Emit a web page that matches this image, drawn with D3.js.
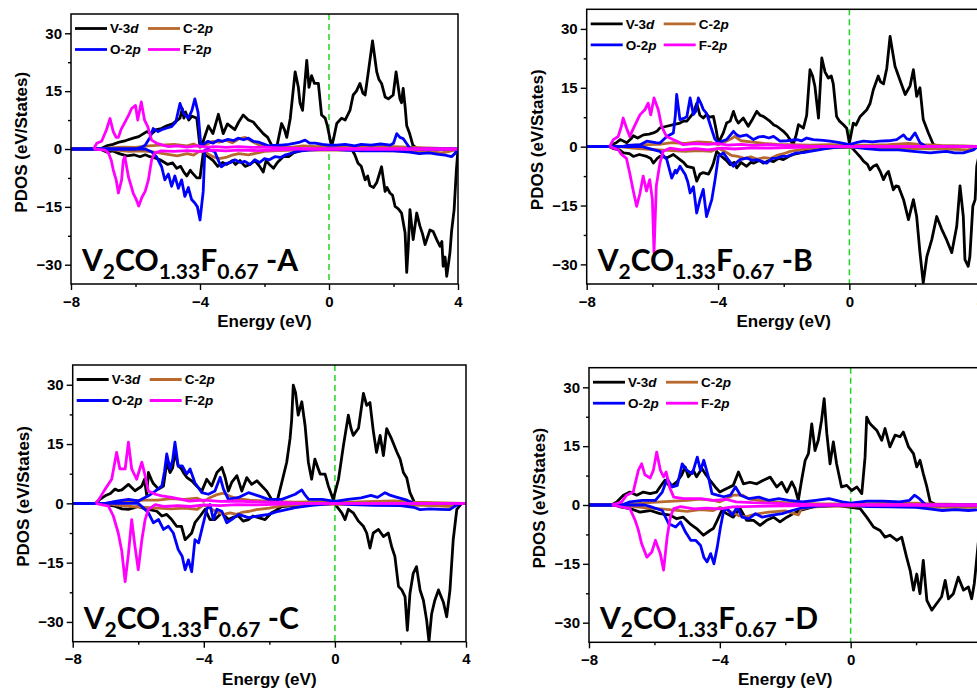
<!DOCTYPE html>
<html>
<head>
<meta charset="utf-8">
<script src="https://cdn.jsdelivr.net/npm/d3@7"></script>
<style>
  body { margin: 0; background: #fff; overflow: hidden; }
  svg { display: block; }
  .tick text { font-family: Arial, "Liberation Sans", sans-serif; font-weight: bold; font-size: 15px; fill: #000; }
  .tick line { stroke: #000; stroke-width: 1.4; }
  .label { font-family: Arial, "Liberation Sans", sans-serif; font-weight: bold; font-size: 17px; fill: #000; }
  .legend { font-family: Arial, "Liberation Sans", sans-serif; font-weight: bold; font-size: 13.5px; fill: #000; }
  .title { font-family: Lato, "Open Sans", sans-serif; font-weight: 700; fill: #000; }
</style>
</head>
<body>
<svg id="chart" width="977" height="691"></svg>
<script>
// energy ticks (eV) and PDOS ticks
const energyTicks = [-8, -4, 0, 4];
const energyMinor = [-6, -2, 2];
const pdosTicks = [-30, -15, 0, 15, 30];
const pdosMinor = [-22.5, -7.5, 7.5, 22.5];

// ---- panel A: [energy, pdos] ----
const aVup = [[-8,0],[-7.1,0],[-6.9,0.8],[-6.7,1.2],[-6.5,1.8],[-6.3,2.2],[-6.07,2.8],[-5.9,3.2],[-5.65,4.5],[-5.5,4],[-5.35,5],[-5.2,5.3],[-5.03,6],[-4.85,6.5],[-4.7,7.5],[-4.62,8],[-4.55,10.5],[-4.5,8],[-4.45,9.6],[-4.35,7.5],[-4.25,8.5],[-4.1,8],[-4.0,0.5],[-3.9,2],[-3.74,6],[-3.6,4],[-3.43,9],[-3.28,4],[-3.15,6.5],[-3.07,6],[-2.92,5],[-2.8,7],[-2.66,8.8],[-2.5,7.5],[-2.35,7],[-2.2,5.5],[-2.04,4],[-1.9,3],[-1.78,1],[-1.62,0.5],[-1.47,6.6],[-1.38,5],[-1.31,3],[-1.2,8],[-1.05,20],[-0.95,16],[-0.9,12],[-0.82,10],[-0.69,23],[-0.62,16],[-0.54,19],[-0.45,17],[-0.33,17],[-0.23,8.8],[-0.12,8],[-0.05,6],[0.08,0.6],[0.15,3],[0.24,6.6],[0.39,8],[0.5,7.5],[0.65,10],[0.75,14],[0.85,15],[0.96,17],[1.05,14.5],[1.12,14],[1.22,20],[1.35,28],[1.48,20],[1.55,18],[1.63,17],[1.74,13.5],[1.84,13],[1.99,14],[2.08,20],[2.2,13],[2.25,12],[2.3,15.7],[2.36,11],[2.41,6],[2.5,4],[2.6,1],[2.75,0],[4,0]];
const aVdn = [[-8,0],[-7.1,0],[-6.9,-0.8],[-6.7,-0.5],[-6.5,-1.2],[-6.27,-1.8],[-6.05,-1.5],[-5.86,-2],[-5.7,-1.5],[-5.55,-2],[-5.4,-2.3],[-5.24,-2.8],[-5.1,-3.5],[-5.0,-4],[-4.85,-3.6],[-4.72,-5],[-4.6,-4.5],[-4.5,-6],[-4.41,-7],[-4.3,-5.5],[-4.26,-6],[-4.1,-7.5],[-4.0,-7.5],[-3.9,-1],[-3.75,-2],[-3.59,-3],[-3.45,-4.5],[-3.3,-3.5],[-3.17,-4],[-3.0,-3],[-2.9,-4],[-2.76,-3],[-2.6,-4.5],[-2.45,-4],[-2.3,-3],[-2.15,-4.5],[-2.04,-6],[-1.95,-3],[-1.85,-4],[-1.72,-5],[-1.6,-3.5],[-1.42,-2],[-1.25,-2],[-1.1,-1],[-0.9,-0.5],[-0.5,0],[0.7,0],[0.8,-1.5],[0.9,-3.7],[1.0,-4.5],[1.12,-8],[1.2,-7],[1.27,-9.5],[1.38,-10],[1.48,-8.7],[1.63,-4.6],[1.74,-11],[1.8,-10],[1.89,-11.4],[1.97,-12],[2.05,-14.9],[2.15,-15.5],[2.25,-16.6],[2.36,-21.8],[2.41,-32],[2.46,-25],[2.51,-15.7],[2.61,-23.5],[2.72,-16.6],[2.82,-20],[2.9,-22],[2.98,-24.8],[3.13,-21],[3.23,-21.4],[3.34,-23.5],[3.44,-25.2],[3.5,-24],[3.54,-30.4],[3.6,-28],[3.65,-33],[3.7,-30],[3.75,-26.9],[3.8,-21.4],[3.88,-15.7],[3.95,-5.4],[4,0]];
const aCup = [[-8,0],[-7,0],[-6.8,0.3],[-6.4,0.5],[-6,0.4],[-5.6,0.8],[-5.2,1],[-4.8,1.2],[-4.4,0.8],[-4.2,1.3],[-4,0.5],[-3.8,1.2],[-3.6,2],[-3.4,1.8],[-3.2,2.3],[-3,1.6],[-2.8,2.6],[-2.6,3],[-2.4,2],[-2.2,1.2],[-2,0.8],[-1.6,0.5],[-1.2,0.4],[-0.8,0.8],[-0.4,0.6],[0,0.8],[0.4,0.4],[1,0.5],[2,0.6],[3,0.3],[4,0]];
const aCdn = [[-8,0],[-7,0],[-6.6,-0.3],[-6.2,-0.6],[-5.8,-0.5],[-5.4,-0.8],[-5,-1.4],[-4.7,-1.8],[-4.4,-1.2],[-4.2,-1.6],[-4,-0.5],[-3.8,-1],[-3.6,-2],[-3.4,-2.5],[-3.2,-2.2],[-3,-1.6],[-2.8,-1.2],[-2.5,-1.5],[-2.2,-1],[-2,-0.6],[-1.6,-0.4],[-1,-0.3],[0,-0.2],[1,-0.3],[2,-0.5],[3,-0.6],[3.5,-1],[3.8,-0.5],[4,0]];
const aOup = [[-8,0],[-6,0],[-5.8,0.5],[-5.7,1],[-5.55,3],[-5.45,5.3],[-5.3,4.5],[-5.19,5],[-5.0,5.5],[-4.88,5.8],[-4.75,7],[-4.62,11.8],[-4.51,9.2],[-4.36,8],[-4.25,10],[-4.16,13],[-4.06,9.5],[-3.97,0.6],[-3.85,1.5],[-3.75,2],[-3.6,1.5],[-3.44,2.3],[-3.3,2],[-3.13,2.5],[-2.95,2.2],[-2.82,2.8],[-2.65,2.4],[-2.5,2.8],[-2.35,2],[-2.19,1.8],[-2.0,1.2],[-1.88,0.8],[-1.6,1],[-1.47,1],[-1.25,1.2],[-1.05,1.5],[-0.9,1.8],[-0.74,2.3],[-0.6,1.5],[-0.43,1.5],[-0.2,1.2],[0,1],[0.24,1],[0.5,1.2],[0.8,0.8],[1.0,1.2],[1.3,1],[1.6,1.3],[1.9,1],[2.0,1.5],[2.1,4],[2.2,3],[2.3,2.7],[2.4,1.5],[2.5,0.3],[2.7,0],[4,0]];
const aOdn = [[-8,0],[-5.7,0],[-5.5,-0.7],[-5.35,-2],[-5.19,-4.6],[-5.09,-8],[-4.98,-6.5],[-4.88,-9.7],[-4.78,-7],[-4.67,-10.2],[-4.57,-8],[-4.47,-12.3],[-4.36,-10],[-4.26,-13.1],[-4.16,-14],[-4.08,-15],[-4.0,-18.4],[-3.9,-11],[-3.85,-0.3],[-3.75,-0.1],[-3.54,-0.7],[-3.44,-2.8],[-3.34,-4.6],[-3.18,-3.7],[-3.05,-3.5],[-2.92,-2.8],[-2.75,-3.5],[-2.61,-3.2],[-2.45,-4],[-2.3,-2.8],[-2.15,-3.5],[-2.0,-2.5],[-1.85,-2.8],[-1.68,-2],[-1.5,-2.2],[-1.37,-1.6],[-1.2,-1.2],[-1.05,-0.7],[-0.64,-0.3],[0,0],[0.5,-0.3],[1,-0.5],[1.5,-0.4],[2,-0.5],[2.5,-0.8],[2.8,-1.2],[3.1,-1],[3.4,-1.4],[3.6,-1.6],[3.8,-2],[3.9,-1.2],[4,0]];
const aFup = [[-7.3,0],[-7.2,1.5],[-7.05,2],[-6.9,5],[-6.79,7.9],[-6.69,4.5],[-6.6,3],[-6.53,3],[-6.45,5],[-6.33,6.9],[-6.2,9],[-6.12,10.5],[-6.0,11.3],[-5.93,7.5],[-5.82,12.2],[-5.72,7.5],[-5.62,5.8],[-5.5,2.3],[-5.34,1.5],[-5.15,1],[-4.98,0.6],[-4.7,0.8],[-4.4,0.5],[-4.1,0.8],[-3.8,0.5],[-3.5,0.6],[-3.2,0.4],[-2.8,0.6],[-2.4,0.4],[-2,0.5],[-1.6,0.3],[-1.2,0.2],[-0.5,0],[4,0]];
const aFdn = [[-7.3,0],[-6.95,-0.3],[-6.84,-1],[-6.75,-3],[-6.69,-5.4],[-6.6,-8],[-6.53,-11.4],[-6.43,-8],[-6.38,-3],[-6.33,-2],[-6.22,-7.2],[-6.12,-10],[-6.07,-11.5],[-5.98,-13],[-5.9,-14.8],[-5.8,-12.5],[-5.7,-11],[-5.6,-8],[-5.5,-2.8],[-5.4,-1],[-5.2,-0.5],[-4.8,-0.6],[-4.4,-0.4],[-4.0,-0.6],[-3.6,-0.3],[-3.2,-0.5],[-2.8,-0.3],[-2.2,-0.4],[-1.6,-0.2],[-1,0],[4,0]];

// ---- panel B ----
const bVup = [[-8,0],[-7.3,0],[-7.24,0.5],[-7.1,1],[-6.98,1.8],[-6.78,1],[-6.65,2],[-6.58,2.8],[-6.45,2.2],[-6.27,3],[-6.1,3.2],[-5.97,3.5],[-5.85,4],[-5.77,4.8],[-5.56,5.2],[-5.36,5.6],[-5.16,6],[-5.05,6.5],[-4.95,6.5],[-4.85,7.5],[-4.75,8.6],[-4.65,11],[-4.55,8],[-4.45,7.3],[-4.35,8.2],[-4.25,7.5],[-4.14,7.7],[-4.05,4],[-3.99,0.9],[-3.84,3.5],[-3.74,6],[-3.63,6.5],[-3.53,9],[-3.45,7],[-3.38,6],[-3.23,7.3],[-3.08,5.2],[-2.95,7],[-2.82,9],[-2.72,8],[-2.62,7.7],[-2.42,6.5],[-2.3,5.5],[-2.21,5.2],[-2.1,4.5],[-2.01,3.9],[-1.9,3],[-1.81,1.8],[-1.71,0.5],[-1.62,3],[-1.55,5.6],[-1.4,4.7],[-1.3,8],[-1.2,19.6],[-1.12,18],[-1.05,15.4],[-0.94,7.3],[-0.84,22.6],[-0.74,19],[-0.64,17.5],[-0.55,18],[-0.49,16],[-0.39,7.7],[-0.3,6.5],[-0.18,5.6],[-0.08,4.7],[0,0.9],[0.12,6],[0.2,5.5],[0.33,7.7],[0.53,9.4],[0.63,11],[0.73,14.5],[0.88,18],[0.95,16.5],[1.04,16],[1.14,20],[1.24,28.1],[1.32,24],[1.39,20.5],[1.54,17],[1.7,13.3],[1.85,15.5],[1.95,19.6],[2.05,12.8],[2.15,15],[2.25,6.9],[2.41,3.4],[2.56,0.5],[2.76,0],[4,0]];
const bVdn = [[-8,0],[-7.3,0],[-7.19,-0.5],[-7.0,-0.8],[-6.88,-1.6],[-6.7,-1.8],[-6.58,-2.5],[-6.4,-2],[-6.17,-2.5],[-6.05,-3],[-5.97,-4.2],[-5.85,-3],[-5.77,-2.5],[-5.55,-2.8],[-5.36,-2],[-5.16,-3.3],[-5.05,-4],[-4.95,-5],[-4.75,-5.4],[-4.65,-8.8],[-4.55,-7],[-4.45,-6.6],[-4.29,-7],[-4.2,-5.5],[-4.14,-4.2],[-4.04,-1.2],[-3.89,-2.5],[-3.75,-3.5],[-3.63,-4.6],[-3.5,-4],[-3.43,-5.4],[-3.3,-4],[-3.13,-5],[-3.0,-4],[-2.92,-4.2],[-2.75,-3.5],[-2.62,-4.2],[-2.45,-3.5],[-2.31,-3.8],[-2.15,-3],[-2.01,-3.3],[-1.85,-2.5],[-1.71,-2],[-1.5,-1.6],[-1.35,-1.2],[-1.2,-0.8],[-0.59,-0.3],[0,0],[0.1,-0.5],[0.22,-1.6],[0.32,-2.5],[0.43,-3.7],[0.55,-4.5],[0.63,-5.9],[0.73,-5],[0.83,-4.6],[0.95,-6.5],[1.04,-8.4],[1.12,-7],[1.19,-6.3],[1.34,-11],[1.42,-10],[1.5,-10.2],[1.65,-13.5],[1.8,-18.6],[1.95,-13.5],[2.05,-17.8],[2.15,-27],[2.25,-34.7],[2.36,-28],[2.51,-23.7],[2.66,-17.8],[2.81,-21],[2.96,-23.7],[3.12,-27],[3.27,-20.3],[3.37,-10],[3.47,-17.8],[3.52,-28.8],[3.62,-30.5],[3.67,-28],[3.76,-15.2],[3.83,-13.5],[3.88,-5],[4,0]];
const bCup = [[-8,0],[-7,0],[-6.6,0.3],[-6.2,0.5],[-5.8,0.6],[-5.4,1],[-5,0.8],[-4.6,1.2],[-4.2,1],[-4,0.5],[-3.8,1.2],[-3.6,2],[-3.5,2.6],[-3.3,1.5],[-3.0,1.2],[-2.6,0.8],[-2.2,0.6],[-1.8,0.5],[-1.2,0.4],[-0.6,0.5],[0,0.3],[0.6,0.4],[1.2,0.5],[1.8,0.8],[2.2,0.5],[2.8,0.3],[3.5,0.2],[4,0]];
const bCdn = [[-8,0],[-7,0],[-6.6,-0.4],[-6.2,-0.6],[-5.8,-0.8],[-5.4,-1],[-5,-1.2],[-4.6,-1],[-4.2,-1.2],[-4,-0.4],[-3.8,-1.2],[-3.6,-2.2],[-3.4,-2.5],[-3.2,-3],[-3,-2.6],[-2.8,-3.2],[-2.6,-2.8],[-2.4,-3],[-2.2,-2.2],[-2,-1.8],[-1.8,-1.2],[-1.4,-0.6],[-1,-0.4],[0,-0.2],[1,-0.3],[2,-0.5],[3,-0.6],[3.6,-0.8],[4,0]];
const bOup = [[-8,0],[-6.9,0],[-6.78,0.3],[-6.37,0.5],[-6.17,1.4],[-5.9,1],[-5.77,0.9],[-5.56,2.6],[-5.36,3.5],[-5.3,8],[-5.26,13.3],[-5.16,6.9],[-5.05,7.2],[-4.95,7.6],[-4.85,12.4],[-4.75,8.2],[-4.68,9],[-4.6,12.4],[-4.52,11],[-4.45,9.5],[-4.35,8.5],[-4.19,4.3],[-4.1,2],[-3.99,0.9],[-3.84,1.5],[-3.74,1.8],[-3.53,3.9],[-3.43,3],[-3.33,2.6],[-3.13,3],[-2.92,1.8],[-2.75,2.5],[-2.62,2.6],[-2.45,2.2],[-2.31,2.6],[-2.11,1.4],[-1.9,1.5],[-1.6,1.8],[-1.45,1.5],[-1.3,2.2],[-1.1,1.8],[-0.8,1.6],[-0.59,1.4],[-0.3,1],[0,0.5],[0.2,1],[0.43,1.4],[0.7,1.2],[0.93,1.4],[1.2,1.5],[1.44,1.8],[1.65,3],[1.75,2],[1.85,1.8],[2.0,3.5],[2.15,1],[2.35,0],[4,0]];
const bOdn = [[-8,0],[-6.3,0],[-6.17,-0.3],[-5.95,-0.8],[-5.77,-1.2],[-5.56,-3.3],[-5.41,-8],[-5.3,-6],[-5.26,-6.7],[-5.16,-5],[-5.0,-7.1],[-4.92,-9],[-4.85,-11.8],[-4.75,-10.2],[-4.65,-16.9],[-4.55,-13.5],[-4.45,-10.9],[-4.35,-17.8],[-4.19,-13.5],[-4.09,-8.4],[-3.99,-2.5],[-3.84,-1.6],[-3.69,-3.3],[-3.53,-5],[-3.43,-4],[-3.33,-3.3],[-3.13,-2.9],[-2.95,-3.5],[-2.82,-3.3],[-2.65,-3.8],[-2.52,-4.2],[-2.35,-3],[-2.21,-2.9],[-2.05,-2.5],[-1.91,-2.5],[-1.75,-2],[-1.6,-1.6],[-1.4,-1.5],[-1.2,-1.2],[-0.8,-0.6],[-0.59,-0.3],[0,0],[0.5,-0.5],[0.93,-0.8],[1.5,-0.8],[1.95,-1.2],[2.2,-1.4],[2.46,-1.6],[2.7,-1.4],[2.96,-1.2],[3.2,-1.6],[3.47,-1.6],[3.78,-0.8],[3.9,0],[4,0]];
const bFup = [[-7.3,0],[-7.19,1.8],[-7.04,2.6],[-6.95,5],[-6.89,7.3],[-6.79,4.8],[-6.69,2.6],[-6.53,5.5],[-6.38,8.1],[-6.23,9.4],[-6.13,11.1],[-6.05,8.1],[-5.95,12.4],[-5.82,9.4],[-5.72,5.2],[-5.57,2.6],[-5.37,1.8],[-5.2,1.2],[-5.06,0.5],[-4.7,0.8],[-4.3,0.6],[-4.0,0.8],[-3.7,0.4],[-3.3,0.6],[-2.9,0.3],[-2.5,0.5],[-2,0.3],[-1.5,0.2],[-1,0],[4,0]];
const bFdn = [[-7.3,0],[-7.04,-0.8],[-6.94,-2],[-6.79,-3],[-6.69,-6.7],[-6.59,-10.9],[-6.48,-15.2],[-6.38,-12],[-6.28,-7.5],[-6.18,-11.3],[-6.08,-8.4],[-6.0,-13.5],[-5.95,-27],[-5.9,-15],[-5.88,-10],[-5.77,-4.2],[-5.67,-1.2],[-5.47,-0.4],[-5.1,-0.8],[-4.7,-0.5],[-4.3,-0.8],[-3.9,-0.4],[-3.5,-0.6],[-3,-0.3],[-2.4,-0.4],[-1.6,-0.2],[-1,0],[4,0]];

// ---- panel C ----
const cVup = [[-8,0],[-7.3,0],[-7.17,1],[-7.01,1.9],[-6.85,2.5],[-6.71,3.6],[-6.6,3.2],[-6.5,3.4],[-6.3,4.8],[-6.2,4],[-6.1,3.2],[-5.95,4],[-5.89,4.4],[-5.81,6.1],[-5.74,2],[-5.69,7.8],[-5.6,6],[-5.54,5],[-5.38,3.6],[-5.23,4.4],[-5.13,10.4],[-5.03,7.8],[-4.95,9],[-4.88,12.9],[-4.78,9.5],[-4.68,8.7],[-4.6,7.5],[-4.52,6.6],[-4.37,5.7],[-4.22,4.4],[-4.06,3.1],[-3.91,6.1],[-3.76,4.4],[-3.6,7.8],[-3.45,9.1],[-3.35,6.6],[-3.25,3.1],[-3.15,5.3],[-2.99,7],[-2.84,3.1],[-2.69,6.5],[-2.54,4.8],[-2.38,5.7],[-2.23,4.4],[-2.08,3.1],[-1.93,1],[-1.77,0.3],[-1.62,5.3],[-1.47,10.4],[-1.37,16.3],[-1.32,21],[-1.27,29.9],[-1.2,28],[-1.12,22.3],[-1.01,25.7],[-0.91,19.7],[-0.81,10.4],[-0.71,6.1],[-0.61,11.2],[-0.52,9],[-0.45,7.4],[-0.3,7.4],[-0.2,4.4],[-0.05,1],[0.11,6.1],[0.26,14.6],[0.41,22.3],[0.49,19],[0.56,17.2],[0.72,19],[0.87,27.8],[0.97,24.8],[1.07,25.5],[1.17,18.4],[1.27,12.9],[1.38,17.2],[1.48,12.1],[1.58,18.9],[1.73,16.3],[1.89,13],[1.99,11.2],[2.09,7.8],[2.19,6.5],[2.29,2.7],[2.44,0],[4,0]];
const cVdn = [[-8,0],[-7.2,0],[-7.01,-0.3],[-6.71,-0.7],[-6.5,-1.4],[-6.3,-1.5],[-6.0,-0.8],[-5.85,-1.2],[-5.69,-1.5],[-5.43,-2],[-5.28,-3.2],[-5.13,-2.8],[-4.98,-4.1],[-4.83,-5.8],[-4.68,-5.8],[-4.57,-9.2],[-4.47,-8.4],[-4.37,-7.5],[-4.27,-4.9],[-4.11,-3.2],[-3.96,-1.5],[-3.81,-4.1],[-3.66,-4.1],[-3.45,-2.4],[-3.25,-4.1],[-3.1,-3.5],[-2.94,-3.2],[-2.8,-4.5],[-2.64,-4.1],[-2.5,-3.2],[-2.33,-3.6],[-2.13,-4.1],[-1.93,-2.4],[-1.8,-1.8],[-1.62,-0.8],[-1.21,-0.5],[-0.71,-0.3],[0,0],[0.05,-0.7],[0.21,-2.4],[0.31,-4.1],[0.41,-1.5],[0.56,-2.4],[0.72,-4.5],[0.87,-5.8],[0.97,-7.5],[1.07,-11.3],[1.17,-7.5],[1.33,-6.6],[1.48,-8.4],[1.63,-7.5],[1.73,-10.9],[1.83,-13.4],[1.94,-21],[2.04,-21.9],[2.14,-23.6],[2.21,-32.1],[2.29,-22.8],[2.39,-17.7],[2.49,-16],[2.6,-22],[2.7,-24.5],[2.8,-29.6],[2.87,-35],[2.95,-28],[3.05,-24.5],[3.16,-21.9],[3.31,-25],[3.41,-28.7],[3.51,-22],[3.61,-9.2],[3.72,-1.5],[3.87,0],[4,0]];
const cCup = [[-8,0],[-7,0],[-6.6,0.4],[-6.2,0.6],[-5.8,0.8],[-5.4,0.8],[-5,1.2],[-4.6,1],[-4.2,1.3],[-4,0.5],[-3.8,1.5],[-3.6,2.2],[-3.4,2.6],[-3.2,1.8],[-3,1.2],[-2.6,0.8],[-2.2,0.6],[-1.8,0.4],[-1.2,0.3],[-0.5,0.4],[0.5,0.3],[1.2,0.5],[1.8,0.6],[2.4,0.3],[3,0.2],[4,0]];
const cCdn = [[-8,0],[-7,0],[-6.6,-0.5],[-6.2,-0.8],[-5.8,-1],[-5.4,-1.2],[-5,-1.4],[-4.6,-1.2],[-4.2,-1.5],[-4,-0.4],[-3.8,-1.3],[-3.6,-2.2],[-3.4,-2.8],[-3.2,-2.4],[-3.0,-2.8],[-2.8,-2.2],[-2.6,-2],[-2.4,-1.6],[-2.0,-1.2],[-1.6,-0.6],[-1,-0.3],[0,-0.2],[1,-0.3],[2,-0.4],[3,-0.6],[3.6,-0.8],[3.8,0],[4,0]];
const cOup = [[-8,0],[-7.0,0],[-6.7,0.5],[-6.3,1],[-6.0,0.6],[-5.69,1.9],[-5.48,3.1],[-5.28,4.4],[-5.2,8],[-5.13,12.5],[-5.03,8.7],[-4.95,11],[-4.88,15.5],[-4.78,9.4],[-4.66,9.5],[-4.52,7.4],[-4.42,8.7],[-4.27,5.2],[-4.06,2.7],[-3.86,2.3],[-3.66,3.1],[-3.5,6.6],[-3.4,3.6],[-3.25,1],[-2.94,1.5],[-2.64,2.7],[-2.33,1.9],[-2.03,1],[-1.62,1],[-1.21,2.3],[-1.01,3.4],[-0.9,2],[-0.8,1],[-0.39,1],[0,0.5],[0.4,1],[0.8,1.4],[1.1,2],[1.3,1.5],[1.53,2.7],[1.7,2],[1.9,1.5],[2.2,0.8],[2.4,0],[4,0]];
const cOdn = [[-8,0],[-6.0,0],[-5.89,-0.8],[-5.69,-2.4],[-5.54,-4.9],[-5.38,-4.1],[-5.23,-6.6],[-5.08,-5.8],[-4.93,-7.5],[-4.78,-11.7],[-4.66,-13.4],[-4.57,-16.8],[-4.47,-14.3],[-4.37,-17.3],[-4.27,-9.2],[-4.16,-10],[-4.06,-6.6],[-3.91,-1.5],[-3.81,-0.3],[-3.71,-4.1],[-3.6,-1.5],[-3.45,-2],[-3.3,-4.9],[-3.15,-4.1],[-2.94,-2.8],[-2.64,-3.6],[-2.33,-3.2],[-2.03,-2.8],[-1.72,-2],[-1.21,-1.1],[-0.71,-0.5],[0,0],[0.5,-0.3],[1.2,-0.5],[2.0,-0.6],[2.4,-1],[2.6,-1.6],[2.9,-1.4],[3.2,-1.5],[3.5,-1.6],[3.7,-0.5],[3.85,0],[4,0]];
const cFup = [[-7.3,0],[-7.2,1],[-7.01,3.6],[-6.81,6.1],[-6.66,12.9],[-6.56,8.7],[-6.4,8.7],[-6.3,15.5],[-6.2,8.7],[-6.05,6.1],[-5.89,10.4],[-5.79,7],[-5.69,3.1],[-5.48,2.3],[-5.28,1.9],[-4.98,1.5],[-4.47,0.6],[-4,0.8],[-3.5,0.5],[-3,0.6],[-2.5,0.4],[-2,0.3],[-1.5,0.2],[-1,0],[4,0]];
const cFdn = [[-7.3,0],[-6.91,-0.7],[-6.76,-3.2],[-6.61,-7.5],[-6.5,-12.2],[-6.4,-19.8],[-6.3,-12.8],[-6.2,-4.1],[-6.1,-10.9],[-6.0,-16.8],[-5.89,-9.2],[-5.79,-4.1],[-5.69,-1.5],[-5.48,-0.3],[-5.2,-0.8],[-4.8,-0.6],[-4.4,-0.8],[-4,-0.4],[-3.5,-0.6],[-3,-0.3],[-2.4,-0.4],[-1.6,-0.2],[-1,0],[4,0]];

// ---- panel D ----
const dVup = [[-8,0],[-7.3,0],[-7.15,0.8],[-6.95,2.5],[-6.75,3.3],[-6.54,2.5],[-6.34,3.3],[-6.13,2.9],[-5.93,3.3],[-5.83,4.6],[-5.68,6.3],[-5.52,4.6],[-5.32,5.8],[-5.17,7.6],[-5.06,9.7],[-4.96,7.2],[-4.81,8.8],[-4.71,7.2],[-4.55,9.3],[-4.45,8],[-4.3,6.3],[-4.14,4.6],[-4.0,3.3],[-3.79,4.2],[-3.59,5],[-3.43,8.4],[-3.28,5.4],[-3.08,5.8],[-2.87,5.4],[-2.67,6.3],[-2.46,7.1],[-2.26,4.6],[-2.11,5.8],[-1.95,3.3],[-1.8,5.9],[-1.7,4.2],[-1.6,1.2],[-1.5,6.3],[-1.39,11.4],[-1.29,13.1],[-1.19,20.7],[-1.09,13.9],[-0.99,16.5],[-0.89,21.6],[-0.81,27.1],[-0.73,18.3],[-0.63,10.5],[-0.53,16.1],[-0.43,10.5],[-0.28,4.6],[-0.12,5],[0.03,3.7],[0.19,4.6],[0.34,2.9],[0.44,12.2],[0.49,22.4],[0.57,21],[0.64,20.3],[0.8,19],[0.95,16.5],[1.05,19.5],[1.2,14.8],[1.36,17.8],[1.51,17.4],[1.61,18.6],[1.77,14.8],[1.92,13.1],[2.02,9.7],[2.12,11.4],[2.22,8],[2.33,4.6],[2.43,0.8],[2.63,0],[4,0]];
const dVdn = [[-8,0],[-7.2,0],[-7.05,-0.5],[-6.75,-0.9],[-6.44,-1.8],[-6.13,-1.4],[-5.83,-2.2],[-5.52,-2.6],[-5.32,-3.5],[-5.12,-3.1],[-4.91,-4.8],[-4.71,-6],[-4.5,-7.7],[-4.3,-6.5],[-4.2,-6],[-4.1,-4.3],[-3.94,-1.4],[-3.79,-2.2],[-3.59,-3.1],[-3.38,-0.9],[-3.18,-3.9],[-2.97,-3.9],[-2.77,-5.2],[-2.57,-3.9],[-2.36,-3.1],[-2.16,-4.3],[-1.95,-3.1],[-1.75,-2.2],[-1.55,-1.4],[-1.14,-0.5],[-0.5,0],[0.29,-0.9],[0.49,-3.1],[0.7,-5.6],[0.9,-6.5],[1.05,-8.2],[1.2,-7.7],[1.41,-9],[1.56,-8.2],[1.71,-13.3],[1.82,-16.7],[1.92,-21.7],[2.02,-17.6],[2.12,-22.6],[2.22,-14.1],[2.33,-24.3],[2.48,-26.8],[2.63,-25.1],[2.78,-23.4],[2.89,-19.2],[2.99,-23.9],[3.14,-22.6],[3.29,-18.4],[3.45,-21.7],[3.6,-20.9],[3.7,-23.9],[3.78,-20],[3.83,-15.8],[3.92,-8],[4,0]];
const dCup = [[-8,0],[-7,0],[-6.6,0.3],[-6.2,0.6],[-5.8,0.8],[-5.4,1],[-5,1.2],[-4.6,1.5],[-4.2,1.2],[-4,0.8],[-3.8,1.6],[-3.6,2.5],[-3.3,2.5],[-3.1,1.5],[-2.8,1.2],[-2.4,0.8],[-2,0.6],[-1.6,0.5],[-1,0.3],[0,0.3],[1,0.4],[2,0.5],[2.5,0.3],[3,0.2],[4,0]];
const dCdn = [[-8,0],[-7,0],[-6.6,-0.4],[-6.2,-0.8],[-5.8,-1],[-5.4,-1.3],[-5,-1.6],[-4.6,-1.2],[-4.2,-1.4],[-4,-0.6],[-3.8,-1.2],[-3.6,-2],[-3.4,-2.8],[-3.2,-3],[-3.0,-2.5],[-2.8,-2.2],[-2.5,-1.8],[-2.0,-1.5],[-1.6,-2.5],[-1.5,-1],[-1.2,-0.5],[0,-0.2],[1,-0.3],[2,-0.4],[3,-0.6],[3.8,-0.6],[4,0]];
const dOup = [[-8,0],[-7,0],[-6.75,0.8],[-6.37,1.2],[-5.97,1.2],[-5.76,3.3],[-5.61,6.7],[-5.45,4.6],[-5.3,5],[-5.15,10.5],[-5.0,8.8],[-4.84,8],[-4.69,12.2],[-4.59,8.8],[-4.49,11.4],[-4.35,7.2],[-4.24,2.9],[-4.08,2.5],[-3.88,2.1],[-3.68,2.5],[-3.52,4.6],[-3.37,2.5],[-3.11,1.6],[-2.81,2],[-2.5,1.2],[-2.2,1.6],[-1.89,1.2],[-1.48,0.8],[-1.07,1.2],[-0.66,1.6],[-0.25,0.8],[0,0.5],[0.5,1],[1,1],[1.5,0.8],[1.8,1.2],[1.95,2.5],[2.1,1.6],[2.3,0],[4,0]];
const dOdn = [[-8,0],[-6.3,0],[-6.17,-0.3],[-5.76,-1.4],[-5.56,-4.8],[-5.35,-5.6],[-5.2,-4.3],[-5.05,-6.9],[-4.89,-9],[-4.74,-9],[-4.59,-10.3],[-4.49,-13.3],[-4.39,-14.5],[-4.28,-12.4],[-4.18,-15],[-4.08,-10.8],[-3.98,-5.6],[-3.88,-1.4],[-3.78,-0.9],[-3.62,-2.6],[-3.47,-0.5],[-3.32,-3.1],[-3.11,-3.5],[-2.91,-2.2],[-2.7,-3.1],[-2.4,-2.6],[-2.09,-2.2],[-1.79,-1.4],[-1.48,-0.7],[-1.0,-0.3],[0,0],[0.5,-0.4],[1.2,-0.5],[2.0,-0.6],[2.4,-1],[2.8,-1.4],[3.2,-1.2],[3.6,-1.4],[3.9,-1.2],[4,0]];
const dFup = [[-7.3,0],[-7.0,0.8],[-6.85,2.5],[-6.65,3.3],[-6.49,8.9],[-6.39,10.5],[-6.29,7.7],[-6.13,6.9],[-6.03,8.9],[-5.93,13.5],[-5.82,8.9],[-5.72,7.2],[-5.64,8.4],[-5.54,4.6],[-5.41,2],[-5.1,1.6],[-4.59,1.6],[-4.2,1.2],[-3.8,1.4],[-3.5,0.8],[-3,0.6],[-2.5,0.5],[-2,0.3],[-1.5,0.2],[-1,0],[4,0]];
const dFdn = [[-7.3,0],[-6.75,-0.9],[-6.59,-3.9],[-6.49,-6.4],[-6.39,-9.9],[-6.23,-13.3],[-6.08,-12],[-5.97,-9],[-5.82,-12.4],[-5.72,-16.6],[-5.61,-8.1],[-5.51,-3],[-5.41,-0.9],[-5.2,-0.4],[-4.8,-1],[-4.4,-0.8],[-4,-1],[-3.6,-0.5],[-3.2,-0.4],[-2.6,-0.3],[-1.8,-0.2],[-1,0],[4,0]];

const orbitals = [
    {key: 'V', name: 'V-3', sub: 'd', color: '#000000'},
    {key: 'C', name: 'C-2', sub: 'p', color: '#b8692e'},
    {key: 'O', name: 'O-2', sub: 'p', color: '#0000ff'},
    {key: 'F', name: 'F-2', sub: 'p', color: '#ff00ff'}
];

// plot box of each panel in page pixels
const panels = [
    {tag: 'A', left: 71, top: 14, width: 387, height: 270,
        curves: {V: [aVup, aVdn], C: [aCup, aCdn], O: [aOup, aOdn], F: [aFup, aFdn]}},
    {tag: 'B', left: 586.7, top: 9.3, width: 394, height: 274.7,
        curves: {V: [bVup, bVdn], C: [bCup, bCdn], O: [bOup, bOdn], F: [bFup, bFdn]}},
    {tag: 'C', left: 72.7, top: 365, width: 393.3, height: 276.7,
        curves: {V: [cVup, cVdn], C: [cCup, cCdn], O: [cOup, cOdn], F: [cFup, cFdn]}},
    {tag: 'D', left: 589, top: 367.7, width: 392.5, height: 274.6,
        curves: {V: [dVup, dVdn], C: [dCup, dCdn], O: [dOup, dOdn], F: [dFup, dFdn]}}
];

const svg = d3.select('#chart');

panels.forEach((p, i) => {
    const g = svg.append('g')
        .attr('transform', `translate(${p.left}, ${p.top})`);

    const xScale = d3.scaleLinear().domain([-8, 4]).range([0, p.width]);
    const yScale = d3.scaleLinear().domain([-35, 35]).range([p.height, 0]);

    g.append('clipPath').attr('id', `clip${i}`)
        .append('rect').attr('width', p.width).attr('height', p.height);

    // axes: major + minor ticks
    const yAxis = g.append('g')
        .call(d3.axisLeft(yScale).tickValues(pdosTicks).tickSize(6).tickPadding(3));
    g.append('g')
        .call(d3.axisLeft(yScale).tickValues(pdosMinor).tickSize(3).tickFormat(''));
    const xAxis = g.append('g')
        .attr('transform', `translate(0, ${p.height})`)
        .call(d3.axisBottom(xScale).tickValues(energyTicks).tickSize(6).tickPadding(6));
    g.append('g')
        .attr('transform', `translate(0, ${p.height})`)
        .call(d3.axisBottom(xScale).tickValues(energyMinor).tickSize(3).tickFormat(''));
    g.selectAll('.domain').remove();
    yAxis.selectAll('text').attr('font-family', null);
    xAxis.selectAll('text').attr('font-family', null);

    // Fermi level
    g.append('line')
        .attr('x1', xScale(0)).attr('x2', xScale(0))
        .attr('y1', 0).attr('y2', p.height)
        .attr('stroke', '#22d422')
        .attr('stroke-width', 1.5)
        .attr('stroke-dasharray', '6,4');

    const line = d3.line()
        .x(d => xScale(d[0]))
        .y(d => yScale(d[1]));

    const curves = g.append('g').attr('clip-path', `url(#clip${i})`);
    orbitals.forEach(o => {
        p.curves[o.key].forEach(data => {
            curves.append('path')
                .datum(data)
                .attr('d', line)
                .attr('fill', 'none')
                .attr('stroke', o.color)
                .attr('stroke-width', 2.8)
                .attr('stroke-linejoin', 'round');
        });
    });

    // frame
    g.append('rect')
        .attr('width', p.width).attr('height', p.height)
        .attr('fill', 'none')
        .attr('stroke', '#000')
        .attr('stroke-width', 1.5);

    // legend, two rows of two
    orbitals.forEach((o, k) => {
        const lx = (k % 2) * 73 + 4;
        const ly = Math.floor(k / 2) * 21 + 14.5;
        g.append('line')
            .attr('x1', lx).attr('x2', lx + 32)
            .attr('y1', ly).attr('y2', ly)
            .attr('stroke', o.color)
            .attr('stroke-width', 2.8);
        const t = g.append('text')
            .attr('class', 'legend')
            .attr('x', lx + 35)
            .attr('y', ly)
            .attr('dy', '0.36em')
            .text(o.name);
        t.append('tspan').attr('font-style', 'italic').text(o.sub);
    });

    // formula label
    const title = g.append('text')
        .attr('class', 'title')
        .attr('x', 11)
        .attr('y', p.height - 13)
        .attr('font-size', 30);
    const parts = [['V', 0], ['2', 1], ['CO', 0], ['1.33', 1], ['F', 0], ['0.67', 1], [` -${p.tag}`, 0]];
    let low = false;
    parts.forEach(([s, isSub]) => {
        const ts = title.append('tspan').text(s);
        if (isSub) ts.attr('font-size', 21);
        if (isSub && !low) { ts.attr('dy', 8); low = true; }
        else if (!isSub && low) { ts.attr('dy', -8); low = false; }
    });

    // axis titles
    g.append('text')
        .attr('class', 'label')
        .attr('transform', `translate(-44, ${p.height * 0.475}) rotate(-90)`)
        .attr('text-anchor', 'middle')
        .text('PDOS (eV/States)');

    g.append('text')
        .attr('class', 'label')
        .attr('x', p.width / 2)
        .attr('y', p.height + 43)
        .attr('text-anchor', 'middle')
        .text('Energy (eV)');
});
</script>
</body>
</html>
